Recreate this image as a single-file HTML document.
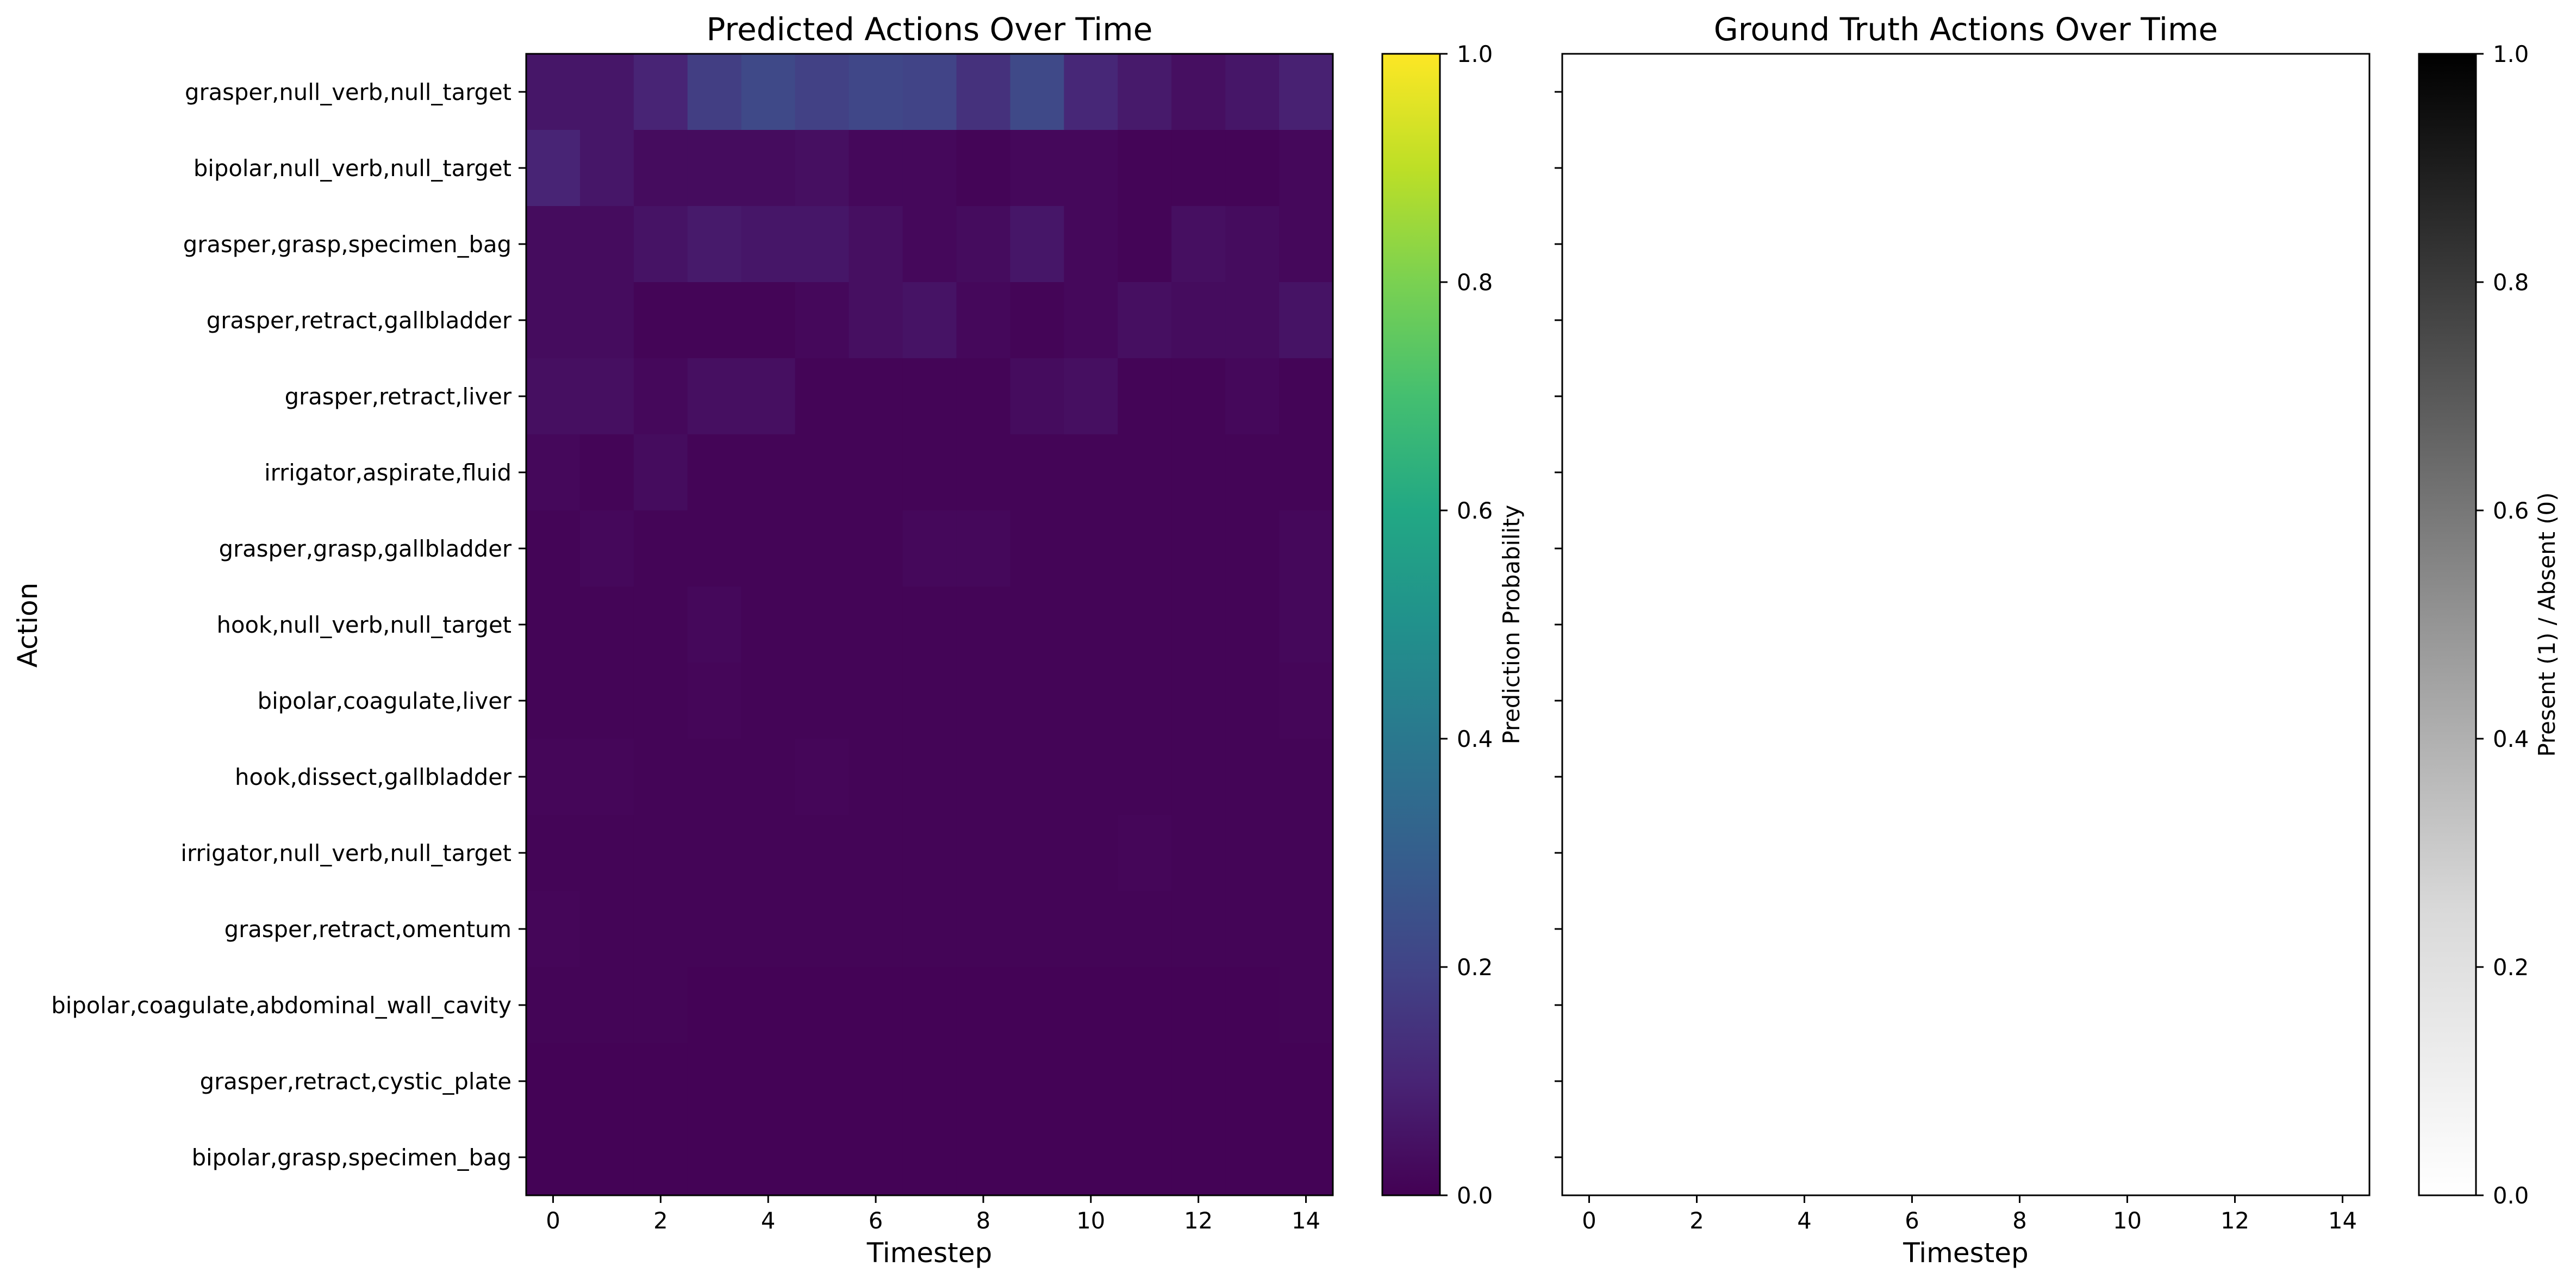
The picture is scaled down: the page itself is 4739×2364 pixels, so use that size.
<!DOCTYPE html>
<html><head><meta charset="utf-8"><style>
html,body{margin:0;padding:0;background:#fff;}
svg{display:block;font-family:"DejaVu Sans","Liberation Sans",sans-serif;}
</style></head><body>
<svg id="fig" width="4739" height="2364" viewBox="0 0 4739 2364" xmlns="http://www.w3.org/2000/svg">
<defs>
<linearGradient id="viridis" x1="0" y1="1" x2="0" y2="0">
<stop offset="0" stop-color="#440154"/><stop offset="0.1" stop-color="#482475"/><stop offset="0.2" stop-color="#414487"/><stop offset="0.3" stop-color="#355f8d"/><stop offset="0.4" stop-color="#2a788e"/><stop offset="0.5" stop-color="#21918c"/><stop offset="0.6" stop-color="#22a884"/><stop offset="0.7" stop-color="#44bf70"/><stop offset="0.8" stop-color="#7ad151"/><stop offset="0.9" stop-color="#bddf26"/><stop offset="1" stop-color="#fde725"/>
</linearGradient>
<linearGradient id="greys" x1="0" y1="1" x2="0" y2="0">
<stop offset="0" stop-color="#ffffff"/><stop offset="0.25" stop-color="#d9d9d9"/><stop offset="0.5" stop-color="#959595"/><stop offset="0.75" stop-color="#4a4a4a"/><stop offset="1" stop-color="#000000"/>
</linearGradient>
</defs>
<g id="left"></g>
<g id="right"></g>
<g id="cb"></g>
</svg>
<script>
const actions = ["grasper,null_verb,null_target","bipolar,null_verb,null_target","grasper,grasp,specimen_bag","grasper,retract,gallbladder","grasper,retract,liver","irrigator,aspirate,fluid","grasper,grasp,gallbladder","hook,null_verb,null_target","bipolar,coagulate,liver","hook,dissect,gallbladder","irrigator,null_verb,null_target","grasper,retract,omentum","bipolar,coagulate,abdominal_wall_cavity","grasper,retract,cystic_plate","bipolar,grasp,specimen_bag"];
const timesteps = [0,1,2,3,4,5,6,7,8,9,10,11,12,13,14];
const xTickLabels = [0,2,4,6,8,10,12,14];
const cbTicks = [0.0,0.2,0.4,0.6,0.8,1.0];
const pred = [
[0.06,0.06,0.10,0.18,0.22,0.19,0.21,0.20,0.14,0.22,0.11,0.07,0.04,0.06,0.09],
[0.10,0.06,0.03,0.03,0.03,0.04,0.02,0.02,0.01,0.02,0.02,0.01,0.01,0.01,0.02],
[0.03,0.03,0.05,0.07,0.06,0.06,0.04,0.02,0.03,0.06,0.02,0.01,0.04,0.03,0.02],
[0.03,0.03,0.01,0.01,0.01,0.02,0.04,0.05,0.02,0.01,0.02,0.04,0.03,0.03,0.05],
[0.04,0.04,0.02,0.04,0.04,0.01,0.01,0.01,0.01,0.03,0.04,0.01,0.01,0.02,0.01],
[0.02,0.01,0.03,0.01,0.01,0.01,0.01,0.01,0.01,0.01,0.01,0.01,0.01,0.01,0.01],
[0.01,0.02,0.01,0.01,0.01,0.01,0.01,0.02,0.02,0.01,0.01,0.01,0.01,0.01,0.02],
[0.01,0.01,0.01,0.02,0.01,0.01,0.01,0.01,0.01,0.01,0.01,0.01,0.01,0.01,0.02],
[0.01,0.01,0.01,0.015,0.01,0.01,0.01,0.01,0.01,0.01,0.01,0.01,0.01,0.01,0.015],
[0.015,0.015,0.01,0.01,0.01,0.015,0.01,0.01,0.01,0.01,0.01,0.01,0.01,0.01,0.01],
[0.01,0.01,0.01,0.01,0.01,0.01,0.01,0.01,0.01,0.01,0.01,0.015,0.01,0.01,0.01],
[0.015,0.01,0.01,0.01,0.01,0.01,0.01,0.01,0.01,0.01,0.01,0.01,0.01,0.01,0.01],
[0.01,0.01,0.01,0.005,0.005,0.005,0.005,0.005,0.005,0.005,0.005,0.005,0.005,0.005,0.01],
[0.005,0.005,0.005,0.005,0.005,0.005,0.005,0.005,0.005,0.005,0.005,0.005,0.005,0.005,0.005],
[0.005,0.005,0.005,0.005,0.005,0.005,0.005,0.005,0.005,0.005,0.005,0.005,0.005,0.005,0.005]
];
const truth = actions.map(()=>timesteps.map(()=>0));

const NS="http://www.w3.org/2000/svg";
function mk(tag, attrs, parent, txt){const e=document.createElementNS(NS,tag);for(const k in attrs)e.setAttribute(k,attrs[k]);if(txt!==undefined)e.textContent=txt;parent.appendChild(e);return e;}
const VIR=["#440154","#482475","#414487","#355f8d","#2a788e","#21918c","#22a884","#44bf70","#7ad151","#bddf26","#fde725"];
function hex(h){return [1,3,5].map(i=>parseInt(h.substr(i,2),16));}
function viridis(v){v=Math.max(0,Math.min(1,v));const p=v*10,i=Math.min(9,Math.floor(p)),t=p-i;const a=hex(VIR[i]),b=hex(VIR[i+1]);return "rgb("+a.map((c,k)=>Math.round(c+(b[k]-c)*t)).join(",")+")";}
function greys(v){const g=Math.round(255*(1-v));return "rgb("+g+","+g+","+g+")";}

const TOP=99,BOT=2199,FS=41.7;
function panel(g,x0,x1,data,cmap,title,showY){
  const nx=timesteps.length, ny=actions.length;
  const xs=i=>x0+(i+0.5)*(x1-x0)/nx;
  const ys=j=>TOP+(j+0.5)*(BOT-TOP)/ny;
  const cw=(x1-x0)/nx, ch=(BOT-TOP)/ny;
  data.forEach((row,j)=>row.forEach((v,i)=>{
    const r=mk('rect',{x:xs(i)-cw/2,y:ys(j)-ch/2,width:cw+0.6,height:ch+0.6,fill:cmap(v)},g);
    
    
  }));
  const fr=mk('rect',{x:x0,y:TOP,width:x1-x0,height:BOT-TOP,fill:'none',stroke:'#000','stroke-width':3},g);
  
  xTickLabels.forEach(t=>{
    const x=xs(t);
    mk('line',{x1:x,x2:x,y1:BOT,y2:BOT+14,stroke:'#000','stroke-width':3},g);
    const tx=mk('text',{x:x,y:2260,'font-size':FS,'text-anchor':'middle'},g,String(t));
    
  });
  actions.forEach((a,j)=>{
    const y=ys(j);
    mk('line',{x1:x0-14,x2:x0,y1:y,y2:y,stroke:'#000','stroke-width':3},g);
    if(showY){
      const tx=mk('text',{x:x0-27,y:y+15,'font-size':FS,'text-anchor':'end'},g,a);
      
    }
  });
  const tt=mk('text',{x:(x0+x1)/2,y:74,'font-size':58,'text-anchor':'middle'},g,title);
  
  const xl=mk('text',{x:(x0+x1)/2,y:2322,'font-size':50,'text-anchor':'middle'},g,'Timestep');
  
}
panel(document.getElementById('left'),968,2452,pred,viridis,'Predicted Actions Over Time',true);
panel(document.getElementById('right'),2874,4359,truth,greys,'Ground Truth Actions Over Time',false);
const L=document.getElementById('left');
const yl=mk('text',{x:0,y:0,'font-size':50,'text-anchor':'middle',transform:'translate(68,1150) rotate(-90)'},L,'Action');


function colorbar(g,x0,x1,grad,label,lx){
  const r=mk('rect',{x:x0,y:TOP,width:x1-x0,height:BOT-TOP,fill:'url(#'+grad+')',stroke:'#000','stroke-width':3},g);
  
  cbTicks.forEach(t=>{
    const y=BOT-t*(BOT-TOP);
    mk('line',{x1:x1,x2:x1+14,y1:y,y2:y,stroke:'#000','stroke-width':3},g);
    const tx=mk('text',{x:x1+31,y:y+15,'font-size':FS},g,t.toFixed(1));
    
  });
  const lb=mk('text',{x:0,y:0,'font-size':FS,'text-anchor':'middle',transform:'translate('+lx+','+((TOP+BOT)/2)+') rotate(-90)'},g,label);
  
}
const CB=document.getElementById('cb');
colorbar(CB,2543,2649,'viridis','Prediction Probability',2795);
colorbar(CB,4450,4555,'greys','Present (1) / Absent (0)',4700);
</script>
</body></html>
